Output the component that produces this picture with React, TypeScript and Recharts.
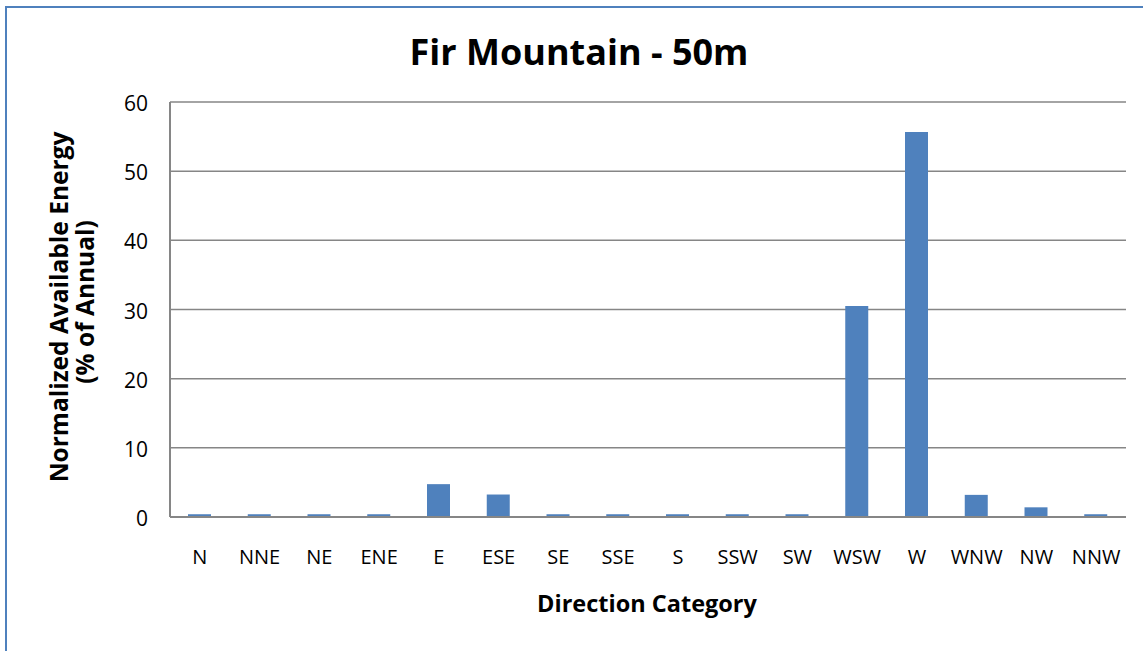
import React from 'react';
import { BarChart, Bar, XAxis, YAxis, CartesianGrid } from 'recharts';

const directions = ['N', 'NNE', 'NE', 'ENE', 'E', 'ESE', 'SE', 'SSE', 'S', 'SSW', 'SW', 'WSW', 'W', 'WNW', 'NW', 'NNW'];
const energyValues = [0.4, 0.4, 0.4, 0.4, 4.75, 3.25, 0.4, 0.4, 0.4, 0.4, 0.4, 30.5, 55.65, 3.2, 1.4, 0.4];
const yTicks = [0, 10, 20, 30, 40, 50, 60];

const chartTitle = 'Fir Mountain - 50m';
const yTitleLine1 = 'Normalized Available Energy';
const yTitleLine2 = '(% of Annual)';
const xTitle = 'Direction Category';

const data = directions.map((d, i) => ({ dir: d, value: energyValues[i] }));

const FONT = '"Open Sans", sans-serif';
const BLUE = '#4f81bd';
const GRAY = '#868686';

const XTick = (props: any) => {
  const { x, y, payload } = props;
  return (
    <text x={x} y={y + 45} textAnchor="middle" fontFamily={FONT} fontSize={20} fill="#000">
      {payload.value}
    </text>
  );
};

const YTick = (props: any) => {
  const { y, payload } = props;
  return (
    <text x={148} y={y + 9} textAnchor="end" fontFamily={FONT} fontSize={21} fill="#000">
      {payload.value}
    </text>
  );
};

export default function App() {
  return (
    <div style={{ position: 'fixed', left: 0, top: 0, width: 1143, height: 651, overflow: 'hidden', background: '#fff' }}>
      <div style={{ position: 'absolute', left: 5, top: 6, width: 1300, height: 800, border: `2px solid ${BLUE}`, boxSizing: 'border-box' }} />
      <div style={{ position: 'absolute', left: 0, top: 0 }}>
        <BarChart width={1143} height={651} data={data} margin={{ top: 102, right: 17, bottom: 94, left: 110 }}>
          <CartesianGrid vertical={false} stroke={GRAY} strokeWidth={1.5} />
          <XAxis
            dataKey="dir"
            axisLine={{ stroke: GRAY, strokeWidth: 2 }}
            tickLine={false}
            tickSize={0}
            height={40}
            tick={<XTick />}
            interval={0}
          />
          <YAxis
            domain={[0, 60]}
            ticks={yTicks}
            width={60}
            axisLine={{ stroke: GRAY, strokeWidth: 2 }}
            tickLine={false}
            tickSize={0}
            tick={<YTick />}
            interval={0}
          />
          <YAxis
            yAxisId="right"
            orientation="right"
            domain={[0, 60]}
            width={0}
            tick={false}
            tickLine={false}
            axisLine={{ stroke: '#6f95c9', strokeWidth: 2 }}
          />
          <XAxis
            xAxisId="top"
            dataKey="dir"
            orientation="top"
            height={0}
            tick={false}
            tickLine={false}
            axisLine={{ stroke: '#6f95c9', strokeWidth: 2 }}
          />
          <Bar dataKey="value" fill={BLUE} barSize={23} isAnimationActive={false} />
        </BarChart>
      </div>
      <svg width={1143} height={651} style={{ position: 'absolute', left: 0, top: 0, pointerEvents: 'none' }}>
        <text x={579} y={65} textAnchor="middle" fontFamily={FONT} fontWeight={700} fontSize={36} fill="#000">
          {chartTitle}
        </text>
        <text x={647} y={612} textAnchor="middle" fontFamily={FONT} fontWeight={700} fontSize={23.5} fill="#000">
          {xTitle}
        </text>
        <text transform="translate(68,307) rotate(-90)" textAnchor="middle" fontFamily={FONT} fontWeight={700} fontSize={24.5} fill="#000">
          {yTitleLine1}
        </text>
        <text transform="translate(94,302) rotate(-90)" textAnchor="middle" fontFamily={FONT} fontWeight={700} fontSize={24.5} fill="#000">
          {yTitleLine2}
        </text>
      </svg>
    </div>
  );
}
